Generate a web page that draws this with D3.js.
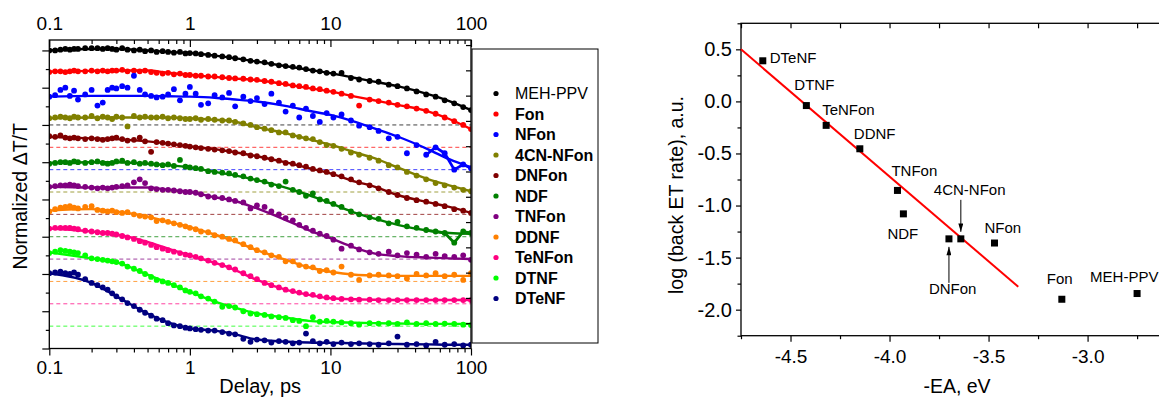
<!DOCTYPE html>
<html>
<head>
<meta charset="utf-8">
<script src="https://cdn.jsdelivr.net/npm/d3@7"></script>
<style>
  body { margin: 0; background: #fff; }
  svg { font-family: Arial, "Liberation Sans", sans-serif; }
</style>
</head>
<body>
<svg id="fig" width="1159" height="399"></svg>
<script>
// ---- left panel data: normalized dT/T vs delay (ps), curves stacked by offset ----
const delays = [0.10, 0.11, 0.12, 0.13, 0.14, 0.15, 0.16, 0.18, 0.20, 0.22,
  0.24, 0.26, 0.28, 0.30, 0.33, 0.36, 0.40, 0.44, 0.48, 0.53,
  0.58, 0.64, 0.70, 0.77, 0.85, 0.93, 1.0, 1.1, 1.2, 1.35,
  1.5, 1.7, 1.9, 2.1, 2.4, 2.7, 3.0, 3.4, 3.8, 4.3,
  4.8, 5.4, 6.0, 6.7, 7.5, 8.4, 9.4, 10.5, 12, 14,
  16, 19, 22, 26, 30, 35, 41, 48, 56, 65,
  76, 88, 100];

const seriesNames = ['MEH-PPV', 'Fon', 'NFon', '4CN-NFon', 'DNFon', 'NDF', 'TNFon', 'DDNF', 'TeNFon', 'DTNF', 'DTeNF'];
const seriesColors = ['#000000', '#ff0000', '#0000ff', '#808000', '#800000', '#008000', '#800080', '#ff8000', '#ff0080', '#00ff00', '#000080'];
const seriesOffsets = [3.0, 2.7, 2.4, 2.1, 1.8, 1.5, 1.2, 0.9, 0.6, 0.3, 0.0];

const mehPpv = [1.00, 1.00, 1.01, 1.02, 1.01, 1.02, 1.02, 1.03, 1.03, 1.03,
  1.02, 1.03, 1.02, 1.01, 1.03, 1.01, 1.00, 1.01, 0.99, 1.00,
  0.98, 0.99, 0.98, 0.97, 0.98, 0.96, 0.965, 0.96, 0.95, 0.94,
  0.93, 0.92, 0.91, 0.895, 0.88, 0.86, 0.85, 0.84, 0.82, 0.80,
  0.79, 0.78, 0.77, 0.75, 0.73, 0.72, 0.70, 0.69, 0.70, 0.63,
  0.61, 0.59, 0.58, 0.54, 0.52, 0.49, 0.45, 0.41, 0.38, 0.33,
  0.29, 0.24, 0.20];
const fon = [1.01, 1.02, 1.02, 1.01, 1.02, 1.03, 1.02, 1.02, 1.03, 1.02,
  1.03, 1.02, 1.03, 1.03, 1.04, 1.02, 1.03, 1.02, 1.03, 1.01,
  1.00, 0.99, 1.00, 0.98, 0.99, 0.97, 0.97, 0.96, 0.96, 0.95,
  0.95, 0.94, 0.93, 0.925, 0.92, 0.91, 0.905, 0.89, 0.88, 0.86,
  0.85, 0.83, 0.82, 0.81, 0.79, 0.78, 0.76, 0.745, 0.72, 0.69,
  0.56, 0.64, 0.62, 0.60, 0.57, 0.55, 0.52, 0.49, 0.45, 0.40,
  0.35, 0.30, 0.245];
const nfon = [0.98, 1.00, 1.07, 1.10, 0.99, 1.06, 0.94, 1.01, 1.07, 0.86,
  0.90, 1.07, 1.10, 1.09, 1.12, 1.10, 1.26, 1.07, 1.01, 0.99,
  0.97, 0.98, 1.01, 1.08, 0.93, 1.02, 1.11, 1.02, 0.87, 0.89,
  1.00, 0.97, 1.03, 0.85, 0.98, 0.92, 0.96, 0.88, 1.02, 0.90,
  0.78, 0.86, 0.70, 0.82, 0.72, 0.64, 0.76, 0.70, 0.74, 0.66,
  0.59, 0.57, 0.52, 0.42, 0.44, 0.22, 0.33, 0.20, 0.30, 0.22,
  0.00, 0.07, 0.02];
const cnNfon = [0.99, 1.00, 1.01, 1.00, 0.99, 1.01, 1.00, 1.00, 1.02, 0.99,
  1.01, 1.00, 0.98, 1.01, 1.00, 0.88, 1.02, 1.00, 1.01, 1.00,
  1.00, 1.01, 0.99, 1.00, 0.99, 0.98, 0.98, 0.99, 0.97, 0.98,
  0.97, 0.96, 0.96, 0.94, 0.92, 0.90, 0.87, 0.85, 0.83, 0.80,
  0.80, 0.76, 0.74, 0.72, 0.71, 0.67, 0.63, 0.62, 0.58, 0.53,
  0.50, 0.46, 0.42, 0.36, 0.33, 0.27, 0.22, 0.17, 0.12, 0.09,
  0.06, 0.03, 0.01];
const dnfon = [1.05, 1.04, 1.06, 1.03, 1.02, 1.03, 1.02, 1.01, 1.02, 1.01,
  1.00, 1.01, 1.02, 1.03, 1.01, 0.99, 1.00, 1.03, 0.98, 0.84,
  0.97, 0.96, 0.95, 0.94, 0.93, 0.92, 0.91, 0.90, 0.89, 0.88,
  0.87, 0.86, 0.85, 0.83, 0.82, 0.79, 0.78, 0.76, 0.74, 0.72,
  0.69, 0.68, 0.66, 0.64, 0.61, 0.59, 0.57, 0.54, 0.51, 0.47,
  0.43, 0.39, 0.35, 0.30, 0.26, 0.22, 0.19, 0.17, 0.14, 0.11,
  0.07, 0.05, 0.02];
const ndf = [0.98, 0.99, 1.00, 1.00, 0.99, 1.01, 1.00, 0.99, 1.00, 1.01,
  0.99, 0.98, 0.99, 1.01, 1.02, 0.99, 1.00, 0.98, 0.99, 0.98,
  0.97, 0.96, 0.97, 0.95, 1.03, 0.94, 0.93, 0.92, 0.91, 0.88,
  0.87, 0.86, 0.85, 0.83, 0.81, 0.78, 0.76, 0.74, 0.70, 0.68,
  0.74, 0.63, 0.60, 0.55, 0.58, 0.50, 0.48, 0.44, 0.40, 0.34,
  0.30, 0.26, 0.24, 0.18, 0.20, 0.14, 0.12, 0.09, 0.07, 0.05,
  -0.08, 0.07, 0.05];
const tnfon = [0.97, 0.98, 0.99, 0.99, 1.00, 0.99, 0.98, 0.97, 0.96, 0.95,
  0.96, 0.95, 0.96, 0.97, 0.98, 0.99, 1.03, 1.07, 1.02, 0.95,
  0.94, 0.93, 0.93, 0.92, 0.91, 0.90, 0.90, 0.89, 0.87, 0.84,
  0.83, 0.82, 0.80, 0.78, 0.76, 0.68, 0.72, 0.70, 0.64, 0.60,
  0.55, 0.52, 0.46, 0.42, 0.38, 0.34, 0.31, 0.26, 0.14, 0.18,
  0.13, 0.09, 0.07, 0.10, 0.05, 0.08, 0.06, 0.03, 0.07, 0.04,
  0.03, 0.05, -0.01];
const ddnf = [0.94, 0.97, 0.99, 1.00, 1.01, 0.99, 0.98, 1.00, 1.01, 0.96,
  0.95, 0.94, 0.95, 0.93, 0.92, 0.93, 0.90, 0.88, 0.87, 0.86,
  0.81, 0.82, 0.80, 0.78, 0.76, 0.74, 0.72, 0.70, 0.67, 0.66,
  0.62, 0.60, 0.57, 0.55, 0.50, 0.46, 0.42, 0.39, 0.35, 0.33,
  0.27, 0.27, 0.22, 0.20, 0.19, 0.14, 0.15, 0.12, 0.20, 0.09,
  0.02, 0.08, 0.09, 0.08, 0.07, 0.04, 0.10, 0.08, 0.11, 0.07,
  0.09, 0.02, 0.11];
const tenfon = [1.01, 1.02, 1.02, 1.02, 1.02, 1.01, 1.00, 0.98, 0.97, 0.96,
  0.95, 0.95, 0.94, 0.93, 0.91, 0.89, 0.87, 0.84, 0.82, 0.79,
  0.76, 0.74, 0.72, 0.70, 0.68, 0.66, 0.65, 0.63, 0.61, 0.58,
  0.55, 0.52, 0.49, 0.46, 0.41, 0.37, 0.33, 0.28, 0.25, 0.22,
  0.19, 0.17, 0.15, 0.13, 0.12, 0.10, 0.085, 0.075, 0.065, 0.06,
  0.055, 0.055, 0.05, 0.05, 0.05, 0.05, 0.05, 0.05, 0.05, 0.05,
  0.05, 0.05, 0.05];
const dtnf = [0.98, 1.00, 1.02, 1.01, 1.00, 0.99, 0.98, 0.95, 0.91, 0.90,
  0.89, 0.88, 0.87, 0.86, 0.84, 0.80, 0.77, 0.74, 0.70, 0.66,
  0.62, 0.60, 0.58, 0.55, 0.52, 0.48, 0.46, 0.44, 0.40, 0.37,
  0.33, 0.26, 0.27, 0.25, 0.20, 0.17, 0.16, 0.15, 0.13, 0.12,
  0.11, 0.08, 0.07, 0.00, 0.12, 0.06, 0.07, 0.06, 0.05, 0.04,
  0.02, 0.04, 0.035, 0.04, 0.03, 0.05, 0.03, 0.04, 0.03, 0.035,
  0.03, 0.02, 0.015];
const dtenf = [1.01, 1.02, 1.03, 1.01, 1.00, 1.02, 0.99, 0.93, 0.88, 0.85,
  0.82, 0.79, 0.74, 0.70, 0.66, 0.61, 0.57, 0.52, 0.48, 0.44,
  0.40, 0.38, 0.34, 0.31, 0.30, 0.28, 0.27, 0.26, 0.25, 0.24,
  0.24, 0.22, 0.20, 0.19, 0.13, 0.09, 0.12, 0.11, 0.08, 0.10,
  0.09, 0.07, 0.08, 0.20, 0.10, 0.07, 0.09, 0.06, 0.08, 0.06,
  0.07, 0.06, 0.05, 0.07, 0.16, 0.05, 0.06, 0.04, 0.09, 0.05,
  0.06, 0.04, 0.05];
const signals = [mehPpv, fon, nfon, cnNfon, dnfon, ndf, tnfon, ddnf, tenfon, dtnf, dtenf];

// fitted decay curves
const fitDelays = [0.1, 0.2, 0.3, 0.5, 0.7, 1, 1.5, 2, 3, 5, 7, 10, 15, 20, 30, 50, 70, 100];
const fits = [
  [1.00, 1.02, 1.02, 1.00, 0.98, 0.965, 0.93, 0.90, 0.85, 0.785, 0.74, 0.695, 0.63, 0.585, 0.52, 0.41, 0.32, 0.20],
  [1.015, 1.025, 1.03, 1.03, 1.00, 0.97, 0.945, 0.925, 0.90, 0.84, 0.795, 0.75, 0.68, 0.635, 0.57, 0.48, 0.38, 0.245],
  [0.98, 0.99, 0.99, 0.99, 0.985, 0.98, 0.965, 0.945, 0.915, 0.85, 0.79, 0.735, 0.64, 0.56, 0.445, 0.27, 0.14, 0.03],
  [0.99, 1.00, 1.00, 1.00, 1.00, 0.99, 0.97, 0.95, 0.87, 0.78, 0.71, 0.635, 0.53, 0.46, 0.33, 0.17, 0.09, 0.01],
  [1.04, 1.02, 1.01, 0.98, 0.95, 0.91, 0.875, 0.84, 0.78, 0.69, 0.62, 0.55, 0.44, 0.38, 0.26, 0.16, 0.10, 0.02],
  [0.99, 1.00, 1.00, 0.98, 0.96, 0.93, 0.87, 0.83, 0.76, 0.65, 0.56, 0.45, 0.32, 0.25, 0.16, 0.08, 0.05, 0.04],
  [0.97, 0.96, 0.96, 0.96, 0.93, 0.90, 0.83, 0.79, 0.68, 0.51, 0.39, 0.28, 0.15, 0.08, 0.04, 0.02, 0.01, 0.00],
  [0.95, 0.97, 0.94, 0.87, 0.80, 0.73, 0.63, 0.55, 0.42, 0.28, 0.19, 0.13, 0.09, 0.08, 0.075, 0.075, 0.075, 0.075],
  [1.01, 0.97, 0.93, 0.83, 0.74, 0.65, 0.55, 0.47, 0.32, 0.18, 0.12, 0.075, 0.06, 0.055, 0.05, 0.05, 0.05, 0.05],
  [0.99, 0.91, 0.86, 0.69, 0.58, 0.46, 0.33, 0.26, 0.17, 0.11, 0.07, 0.055, 0.045, 0.04, 0.035, 0.03, 0.03, 0.03],
  [1.01, 0.88, 0.70, 0.47, 0.35, 0.27, 0.24, 0.20, 0.12, 0.09, 0.08, 0.075, 0.07, 0.065, 0.06, 0.055, 0.05, 0.05]
];
// series whose long-delay points are joined by a line
const joinedTails = ['NFon', 'NDF'];
const tailFrom = 48;

const delayTicks = [0.1, 1, 10, 100];

// ---- right panel data ----
const acceptors = ['DTeNF', 'DTNF', 'TeNFon', 'DDNF', 'TNFon', 'NDF', 'DNFon', '4CN-NFon', 'NFon', 'Fon', 'MEH-PPV'];
const electronAffinity = [-4.64, -4.42, -4.32, -4.15, -3.96, -3.93, -3.70, -3.64, -3.47, -3.13, -2.75];
const logBackRate = [0.39, -0.04, -0.23, -0.455, -0.855, -1.08, -1.32, -1.32, -1.36, -1.90, -1.845];
const lineEA = [-4.75, -3.35];
const lineRate = [0.50, -1.78];
const eaTicks = [-4.5, -4.0, -3.5, -3.0];
const rateTicks = [-2.0, -1.5, -1.0, -0.5, 0.0, 0.5];

// label placement (px from the marker) and arrows
const labelShift = {
  'DTeNF': [7, 2], 'DTNF': [-12, -16], 'TeNFon': [-4, -10], 'DDNF': [-6, -10], 'TNFon': [-6, -14],
  '4CN-NFon': [-27, -44], 'NDF': [-16, 25], 'DNFon': [-20, 55], 'NFon': [-10, -10], 'Fon': [-15, -15], 'MEH-PPV': [-47, -12]
};
const arrowShift = { '4CN-NFon': [-39, -7], 'DNFon': [44, 8] };

const svg = d3.select('#fig');
svg.append('rect').attr('width', 1159).attr('height', 399).attr('fill', '#fff');

const oneDecimal = d => d.toFixed(1);   // plain hyphen minus, as in the figure

function styleAxis(g, size) {
  g.select('.domain').remove();
  g.selectAll('line').attr('stroke', '#000').attr('stroke-width', 1.2);
  g.selectAll('text').attr('font-size', size || 19).attr('fill', '#000')
    .attr('font-family', 'Arial, "Liberation Sans", sans-serif');
}

// ================= left panel =================
const L = { left: 49.3, right: 471, top: 40, bottom: 348.5 };
const x = d3.scaleLog().domain([0.1, 100]).range([L.left, L.right]);
const y = d3.scaleLinear().domain([0, 4.14]).range([L.bottom, L.top]);
const yInner = d3.scaleLinear().domain([0, 12.2]).range([L.bottom, L.top]);

const minorDelays = [];
[0.1, 1, 10].forEach(d => { for (let k = 2; k < 10; k++) minorDelays.push(+(d * k).toFixed(3)); });

svg.append('defs').append('clipPath').attr('id', 'clipL')
  .append('rect').attr('x', L.left).attr('y', L.top)
  .attr('width', L.right - L.left).attr('height', L.bottom - L.top);

const plotL = svg.append('g').attr('clip-path', 'url(#clipL)');

// zero lines for every curve
plotL.selectAll('line.base').data(seriesNames).enter().append('line')
  .attr('class', 'base')
  .attr('x1', x(0.1)).attr('x2', x(100))
  .attr('y1', (d, i) => y(seriesOffsets[i])).attr('y2', (d, i) => y(seriesOffsets[i]))
  .attr('stroke', (d, i) => seriesColors[i])
  .attr('stroke-opacity', 0.75)
  .attr('stroke-width', 1)
  .attr('stroke-dasharray', '4,3');

const fitLine = d3.line().curve(d3.curveMonotoneX);

seriesNames.forEach((name, i) => {
  const g = plotL.append('g').attr('class', 'series');
  const pts = delays.map((t, j) => [x(t), y(seriesOffsets[i] + signals[i][j])]);
  const fp = fitDelays.map((t, j) => [x(t), y(seriesOffsets[i] + fits[i][j])]);
  g.append('path').attr('d', fitLine(fp)).attr('fill', 'none')
    .attr('stroke', seriesColors[i]).attr('stroke-width', 2.4);
  g.selectAll('circle').data(pts).enter().append('circle')
    .attr('cx', d => d[0]).attr('cy', d => d[1]).attr('r', 2.9)
    .attr('fill', seriesColors[i]);
  if (joinedTails.includes(name)) {
    const tail = delays.map((t, j) => [t, signals[i][j]]).filter(d => d[0] >= tailFrom)
      .map(d => [x(d[0]), y(seriesOffsets[i] + d[1])]);
    g.append('path').attr('d', d3.line()(tail)).attr('fill', 'none')
      .attr('stroke', seriesColors[i]).attr('stroke-width', 2.8).attr('stroke-linejoin', 'round');
  }
});

// axes of the left panel
svg.append('g').attr('transform', `translate(0,${L.bottom})`)
  .call(d3.axisBottom(x).tickValues(delayTicks).tickFormat(d => String(d)).tickSize(7).tickPadding(5))
  .call(styleAxis);
svg.append('g').attr('transform', `translate(0,${L.bottom})`)
  .call(d3.axisBottom(x).tickValues(minorDelays).tickFormat(() => '').tickSize(4))
  .call(styleAxis);
svg.append('g').attr('transform', `translate(0,${L.top})`)
  .call(d3.axisTop(x).tickValues(delayTicks).tickFormat(d => String(d)).tickSize(-7).tickPadding(10))
  .call(styleAxis);
svg.append('g').attr('transform', `translate(0,${L.top})`)
  .call(d3.axisTop(x).tickValues(minorDelays).tickFormat(() => '').tickSize(-4))
  .call(styleAxis);
svg.append('g').attr('transform', `translate(${L.left},0)`)
  .call(d3.axisLeft(y).tickValues(d3.range(0, 4.01, 0.5)).tickFormat(() => '').tickSize(7))
  .call(styleAxis);
svg.append('g').attr('transform', `translate(${L.left},0)`)
  .call(d3.axisLeft(y).tickValues(d3.range(0.25, 4, 0.5)).tickFormat(() => '').tickSize(3.5))
  .call(styleAxis);
svg.append('g').attr('transform', `translate(${L.right},0)`)
  .call(d3.axisLeft(yInner).tickValues(d3.range(1, 13)).tickFormat(() => '').tickSize(5))
  .call(styleAxis);
svg.append('rect').attr('x', L.left).attr('y', L.top)
  .attr('width', L.right - L.left).attr('height', L.bottom - L.top)
  .attr('fill', 'none').attr('stroke', '#000').attr('stroke-width', 1.3);

svg.append('text').attr('transform', `translate(27,${(L.top + L.bottom) / 2 + 2}) rotate(-90)`)
  .attr('text-anchor', 'middle').attr('font-size', 19.5).text('Normalized \u0394T/T');
svg.append('text').attr('x', (L.left + L.right) / 2).attr('y', 393)
  .attr('text-anchor', 'middle').attr('font-size', 20).text('Delay, ps');

// legend
const legend = svg.append('g');
legend.append('rect').attr('x', 472).attr('y', 49).attr('width', 126).attr('height', 294)
  .attr('fill', '#fff').attr('stroke', '#000').attr('stroke-width', 1);
const rows = legend.selectAll('g.row').data(seriesNames).enter().append('g')
  .attr('class', 'row').attr('transform', (d, i) => `translate(0,${93.5 + i * 20.5})`);
rows.append('circle').attr('cx', 496).attr('cy', 0).attr('r', 2.6).attr('fill', (d, i) => seriesColors[i]);
rows.append('text').attr('x', 515).attr('dy', '0.35em').attr('font-size', 16)
  .attr('font-weight', (d, i) => i === 0 ? 'normal' : 'bold').text(d => d);

// ================= right panel =================
const R = { left: 741, right: 1186.6, top: 23.3, bottom: 335.7 };
const xr = d3.scaleLinear().domain([-4.75, -2.5]).range([R.left, R.right]);
const yr = d3.scaleLinear().domain([-2.25, 0.75]).range([R.bottom, R.top]);

const eaMinor = d3.range(-4.75, -2.49, 0.25).filter(v => !eaTicks.some(t => Math.abs(t - v) < 1e-6));
const rateMinor = d3.range(-2.25, 0.76, 0.25).filter(v => !rateTicks.some(t => Math.abs(t - v) < 1e-6));

svg.append('g').attr('transform', `translate(0,${R.bottom})`)
  .call(d3.axisBottom(xr).tickValues(eaTicks).tickFormat(oneDecimal).tickSize(6).tickPadding(8))
  .call(styleAxis);
svg.append('g').attr('transform', `translate(0,${R.bottom})`)
  .call(d3.axisBottom(xr).tickValues(eaMinor).tickFormat(() => '').tickSize(3.5))
  .call(styleAxis);
svg.append('g').attr('transform', `translate(0,${R.top})`)
  .call(d3.axisTop(xr).tickValues(eaTicks.concat(eaMinor)).tickFormat(() => '').tickSize(-5))
  .call(styleAxis);
svg.append('g').attr('transform', `translate(${R.left},0)`)
  .call(d3.axisLeft(yr).tickValues(rateTicks).tickFormat(oneDecimal).tickSize(5).tickPadding(4))
  .call(g => styleAxis(g, 20));
svg.append('g').attr('transform', `translate(${R.left},0)`)
  .call(d3.axisLeft(yr).tickValues(rateMinor).tickFormat(() => '').tickSize(3.5))
  .call(styleAxis);
svg.append('rect').attr('x', R.left).attr('y', R.top)
  .attr('width', R.right - R.left).attr('height', R.bottom - R.top)
  .attr('fill', 'none').attr('stroke', '#000').attr('stroke-width', 1.3);

// fit line
svg.append('path')
  .attr('d', d3.line()(lineEA.map((v, i) => [xr(v), yr(lineRate[i])])))
  .attr('stroke', '#ff0000').attr('stroke-width', 2).attr('fill', 'none');

// markers
svg.selectAll('rect.pt').data(acceptors).enter().append('rect')
  .attr('class', 'pt')
  .attr('x', (d, i) => xr(electronAffinity[i]) - 3.5)
  .attr('y', (d, i) => yr(logBackRate[i]) - 3.5)
  .attr('width', 7).attr('height', 7).attr('fill', '#000');

svg.selectAll('text.lbl').data(acceptors).enter().append('text')
  .attr('class', 'lbl')
  .attr('x', (d, i) => xr(electronAffinity[i]) + labelShift[d][0])
  .attr('y', (d, i) => yr(logBackRate[i]) + labelShift[d][1])
  .attr('font-size', 15).text(d => d);

svg.select('defs').append('marker').attr('id', 'head')
  .attr('viewBox', '0 0 10 6').attr('refX', 10).attr('refY', 3)
  .attr('markerWidth', 9).attr('markerHeight', 5).attr('markerUnits', 'userSpaceOnUse')
  .attr('orient', 'auto')
  .append('path').attr('d', 'M0,0 L10,3 L0,6 Z').attr('fill', '#000');

Object.keys(arrowShift).forEach(name => {
  const i = acceptors.indexOf(name);
  const px = xr(electronAffinity[i]), py = yr(logBackRate[i]);
  svg.append('line').attr('x1', px).attr('x2', px)
    .attr('y1', py + arrowShift[name][0]).attr('y2', py + arrowShift[name][1])
    .attr('stroke', '#000').attr('stroke-width', 1).attr('marker-end', 'url(#head)');
});

svg.append('text').attr('transform', `translate(683,195) rotate(-90)`)
  .attr('text-anchor', 'middle').attr('font-size', 19.5).text('log (back ET rate), a.u.');
svg.append('text').attr('x', 957).attr('y', 393)
  .attr('text-anchor', 'middle').attr('font-size', 19.5).text('-EA, eV');
</script>
</body>
</html>
